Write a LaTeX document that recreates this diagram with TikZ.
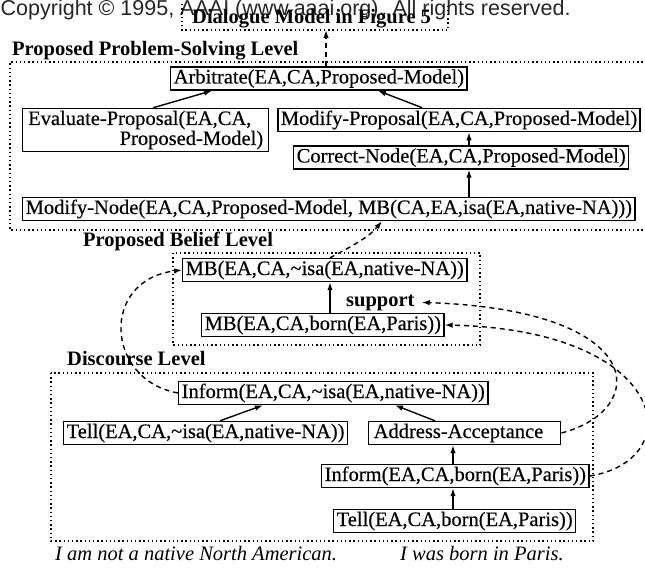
\documentclass[tikz,border=0pt]{standalone}
\usepackage{fontspec}
\setmainfont{Liberation Serif}
\newfontfamily\boxfont{Liberation Serif}[FakeBold=0.4]
\newfontfamily\cpfont{Liberation Sans}
\usetikzlibrary{arrows.meta}
\begin{document}
\begin{tikzpicture}[x=1pt,y=-1pt,
  every node/.style={font=\boxfont\fontsize{20.5}{20}\selectfont},
  box/.style={draw, line width=1.4pt, inner xsep=3pt, inner ysep=2pt, text height=14.5pt, text depth=4.5pt, anchor=west},
  lvl/.style={font=\fontsize{20.5}{20}\selectfont\bfseries, anchor=base west, inner sep=0pt},
  region/.style={line width=1.4pt, dash pattern=on 1.4pt off 2.8pt},
  arr/.style={line width=1.4pt, -{Latex[length=8pt,width=5.5pt]}},
  darr/.style={line width=1.4pt, dash pattern=on 5pt off 4pt, -{Latex[length=8pt,width=5.5pt]}},
]
\useasboundingbox (0,0) rectangle (645,572);

% copyright line
\node[font=\cpfont\fontsize{21.5}{22}\selectfont, text=black!85, anchor=base west, inner sep=0pt] (cp) at (0.5,15.5) {Copyright © 1995, AAAI (www.aaai.org). All rights reserved.};

% dialogue model box
\node[lvl] (dlg) at (192,24) {Dialogue Model in Figure 5};
\draw[region] (182,4) -- (182,30) -- (448,30) -- (448,4);

% problem-solving level
\node[lvl] (psl) at (12,56) {Proposed Problem-Solving Level};
\draw[region] (647,62) -- (10,62) -- (10,230) -- (647,230);
\node[box] (arb) at (170,78.5) {Arbitrate(EA,CA,Proposed-Model)};
\node[box, text width=235pt, align=left, inner xsep=5.5pt, text depth=24.5pt] (ev) at (22,130) {Evaluate-Proposal(EA,CA,\\\hspace*{\fill}Proposed-Model)};
\node[box, line width=1.7pt] (mp) at (277,120) {Modify-Proposal(EA,CA,Proposed-Model)};
\node[box] (cn) at (293,157.5) {Correct-Node(EA,CA,Proposed-Model)};
\node[box] (mn) at (22,209) {Modify-Node(EA,CA,Proposed-Model, MB(CA,EA,isa(EA,native-NA)))};

% belief level
\node[lvl] (pbl) at (83,247) {Proposed Belief Level};
\draw[region] (173,253) rectangle (480,345);
\node[box] (mbisa) at (182,270) {MB(EA,CA,\textasciitilde isa(EA,native-NA))};
\node[box] (mbb) at (201,325) {MB(EA,CA,born(EA,Paris))};
\node[lvl, inner xsep=7pt] (sup) at (339,306) {support};

% discourse level
\node[lvl] (dl) at (67,365) {Discourse Level};
\draw[region] (51,373) rectangle (593,541);
\node[box] (inf1) at (178,393) {Inform(EA,CA,\textasciitilde isa(EA,native-NA))};
\node[box] (tl1) at (63,433) {Tell(EA,CA,\textasciitilde isa(EA,native-NA))};
\node[box, text width=182pt, align=left, inner xsep=5pt] (addr) at (368,433) {Address-Acceptance};
\node[box] (inf2) at (321,476) {Inform(EA,CA,born(EA,Paris))};
\node[box] (tl2) at (333,521) {Tell(EA,CA,born(EA,Paris))};

% captions
\node[font=\fontsize{20.5}{20}\selectfont\itshape, anchor=base west, inner sep=0pt] (c1) at (55,560) {I am not a native North American.};
\node[font=\fontsize{20.5}{20}\selectfont\itshape, anchor=base west, inner sep=0pt] (c2) at (400,560) {I was born in Paris.};

% helper x positions
\coordinate (dlgb) at (326,30);
\coordinate (x153) at (153,0);
\coordinate (x212) at (212,0);
\coordinate (x422) at (422,0);
\coordinate (x378) at (378,0);
\coordinate (x469) at (469,0);
\coordinate (x330) at (330,0);
\coordinate (x382) at (382,0);
\coordinate (x220) at (220,0);
\coordinate (x263) at (263,0);
\coordinate (x435) at (435,0);
\coordinate (x395) at (395,0);
\coordinate (x453) at (453,0);

% connectors
\draw[darr] (arb.north -| dlgb) -- (dlgb);
\draw[arr] (ev.north -| x153) -- (arb.south -| x212);
\draw[arr] (mp.north -| x422) -- (arb.south -| x378);
\draw[arr] (cn.north -| x469) -- (mp.south -| x469);
\draw[arr] (mn.north -| x469) -- (cn.south -| x469);
\draw[darr] (mbisa.north -| x330) .. controls (352,246) and (368,238) .. (mn.south -| x382);
\draw[arr] (mbb.north -| x330) -- (mbisa.south -| x330);
\draw[darr] (inf1.west) .. controls (105,380) and (100,280) .. (mbisa.west);
\draw[darr] (addr.east) .. controls (650,410) and (650,310) .. (sup.east);
\draw[darr] (inf2.east) .. controls (690,460) and (670,330) .. (mbb.east);
\draw[arr] (tl1.north -| x220) -- (inf1.south -| x263);
\draw[arr] (addr.north -| x435) -- (inf1.south -| x395);
\draw[arr] (inf2.north -| x453) -- (addr.south -| x453);
\draw[arr] (tl2.north -| x453) -- (inf2.south -| x453);
\end{tikzpicture}
\end{document}
